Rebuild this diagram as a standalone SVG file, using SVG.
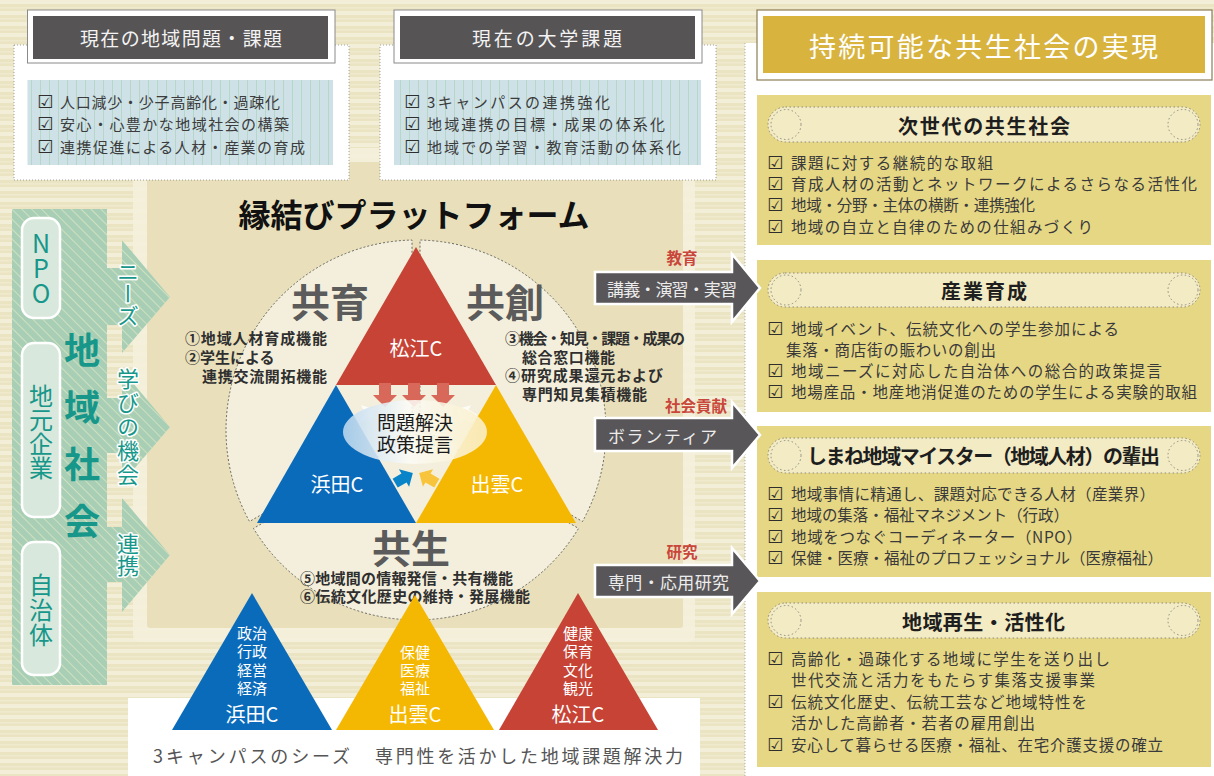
<svg xmlns="http://www.w3.org/2000/svg" width="1214" height="776" viewBox="0 0 1214 776">
<defs>
<style>
text{font-family:"Noto Sans CJK JP","Noto Sans CJK SC","DejaVu Sans",sans-serif;dominant-baseline:central;}
.c{text-anchor:middle}
.b{font-weight:700}
.hdr{fill:#f3f3f3;font-size:19px}
.item{fill:#3c3c3c;font-size:15px}
.chk{fill:#2e2e2e;font-size:18px;font-family:"DejaVu Sans",sans-serif}
.ritem{fill:#3a3a3a;font-size:15.5px}
.rtitle{fill:#1e1e1e;font-size:20px;font-weight:700}
.pill{fill:#f3ebc4;stroke:#8d8a80;stroke-width:1;stroke-dasharray:1.5 2.5}
.pc{fill:none;stroke:#8d8a80;stroke-width:1;stroke-dasharray:1.5 2.5}
.ybox{fill:#e6d785}
.teal{fill:#17978a}
.v{writing-mode:vertical-rl;text-orientation:upright}
.vt{writing-mode:vertical-rl;text-orientation:upright;font-size:22px;fill:#17978a;stroke:#fff;stroke-width:3;paint-order:stroke;stroke-linejoin:round}
.sector{fill:#f4efdc;stroke:#5a5a5a;stroke-width:0.9;stroke-dasharray:2 2}
.fn{fill:#2f2f2f;font-size:15px;font-weight:700}
.kyo{fill:#5b5b5b;font-size:39px;font-weight:700}
.wt{fill:#fff}
.garrow{fill:#585658;stroke:#fff;stroke-width:2.5;stroke-linejoin:miter}
.gtxt{fill:#ececec;font-size:17px}
.red{fill:#c9463b;font-size:15.5px;font-weight:700}
.gpill{fill:#d9e8dc;stroke:#fff;stroke-width:2.5}
</style>
<pattern id="bgStripe" width="16" height="11" patternUnits="userSpaceOnUse">
<rect width="16" height="11" fill="#ebe4c3"/>
<rect y="0" width="16" height="4" fill="#f3eed7"/>
<rect y="7" width="16" height="1.5" fill="#efe9cd"/>
</pattern>
<pattern id="blueLines" width="9" height="10" patternUnits="userSpaceOnUse">
<rect width="9" height="10" fill="#cde1e6"/>
<rect x="4" width="1" height="10" fill="#b6d6c8"/>
</pattern>
<pattern id="greenDiag" width="7" height="7" patternUnits="userSpaceOnUse" patternTransform="rotate(-45)">
<rect width="7" height="7" fill="#a8cfb6"/>
<rect width="1" height="7" fill="#cfe0be"/>
</pattern>
<linearGradient id="ellG" x1="0" y1="0" x2="1" y2="0">
<stop offset="0" stop-color="#bcd8ef"/>
<stop offset="0.45" stop-color="#fbfbf7"/>
<stop offset="1" stop-color="#faefc8"/>
</linearGradient>
<path id="sa" d="M-12,-6 H0 V-12 L12,0 L0,12 V6 H-12 Z"/>
</defs>

<!-- background -->
<rect width="1214" height="776" fill="url(#bgStripe)"/>

<!-- platform -->
<g id="platform">
<rect x="133" y="148" width="562" height="494" rx="6" fill="#f4efdb" opacity="0.9"/>
<rect x="147" y="162" width="536" height="466" rx="3" fill="#e9e0bb"/>
<text x="414" y="213" class="c b" font-size="32" fill="#111" textLength="351" lengthAdjust="spacing">縁結びプラットフォーム</text>
</g>

<!-- top left panel -->
<g id="regional-issues">
<rect x="14" y="45" width="335" height="135" fill="#fff" stroke="#888" stroke-width="0.8" stroke-dasharray="1 2"/>
<rect x="27.5" y="10" width="307.5" height="53" fill="#fff" stroke="#8a8a8a" stroke-width="1"/>
<rect x="33" y="16" width="295" height="43" fill="#565455"/>
<text x="181" y="37" class="c hdr" textLength="202" lengthAdjust="spacing">現在の地域問題・課題</text>
<rect x="27.5" y="80" width="305.5" height="85" fill="url(#blueLines)"/>
<text x="37" y="101" class="chk">☑</text>
<text x="60" y="101" class="item" textLength="220" lengthAdjust="spacing">人口減少・少子高齢化・過疎化</text>
<text x="37" y="123" class="chk">☑</text>
<text x="60" y="123" class="item" textLength="229" lengthAdjust="spacing">安心・心豊かな地域社会の構築</text>
<text x="37" y="146" class="chk">☑</text>
<text x="60" y="146" class="item" textLength="245" lengthAdjust="spacing">連携促進による人材・産業の育成</text>
</g>

<g id="university-issues">
<rect x="380" y="45" width="336" height="135" fill="#fff" stroke="#888" stroke-width="0.8" stroke-dasharray="1 2"/>
<rect x="394" y="10" width="308" height="53" fill="#fff" stroke="#8a8a8a" stroke-width="1"/>
<rect x="400" y="16" width="295" height="43" fill="#565455"/>
<text x="547" y="37" class="c hdr" textLength="150" lengthAdjust="spacing">現在の大学課題</text>
<rect x="394" y="80" width="307" height="85" fill="url(#blueLines)"/>
<text x="404" y="101" class="chk">☑</text>
<text x="427" y="101" class="item" textLength="183" lengthAdjust="spacing">3キャンパスの連携強化</text>
<text x="404" y="123" class="chk">☑</text>
<text x="427" y="123" class="item" textLength="238" lengthAdjust="spacing">地域連携の目標・成果の体系化</text>
<text x="404" y="146" class="chk">☑</text>
<text x="427" y="146" class="item" textLength="254" lengthAdjust="spacing">地域での学習・教育活動の体系化</text>
</g>

<!-- left community panel -->
<g id="community">
<rect x="12" y="209" width="95" height="476" fill="url(#greenDiag)"/>
<polygon points="100,268 122,268 122,240 170,297 122,353 122,325 100,325" fill="url(#greenDiag)"/>
<polygon points="100,398 122,398 122,370 170,427 122,483 122,453 100,453" fill="url(#greenDiag)"/>
<polygon points="100,527 122,527 122,498 170,555 122,612 122,582 100,582" fill="url(#greenDiag)"/>
<rect x="22" y="218" width="38" height="100" rx="12" class="gpill"/>
<rect x="22" y="343" width="38" height="174" rx="12" class="gpill"/>
<rect x="22" y="542" width="38" height="133" rx="12" class="gpill"/>
<text x="41" y="231" class="teal v" font-size="25">NPO</text>
<text x="41" y="384" class="teal v" font-size="24">地元企業</text>
<text x="41" y="573" class="teal v" font-size="24" letter-spacing="1">自治体</text>
<text x="82" y="332" class="teal b v" font-size="36" letter-spacing="21">地域社会</text>
<text x="128" y="261" class="vt">ニーズ</text>
<text x="128" y="368" class="vt" letter-spacing="2">学びの機会</text>
<text x="128" y="533" class="vt">連携</text>
</g>

<!-- circle sectors -->
<g id="circle">
<path class="sector" d="M412,427.65 L249.5,521.5 A190,190 0 0 1 412,240.04 Z"/>
<path class="sector" d="M420,427.65 L420,240.04 A190,190 0 0 1 582.5,521.5 Z"/>
<path class="sector" d="M416,434.6 L578.5,528.4 A190,190 0 0 1 253.5,528.4 Z"/>
<text x="330" y="300" class="c kyo">共育</text>
<text x="505" y="300" class="c kyo">共創</text>
<text x="411" y="546" class="c kyo">共生</text>
<text class="fn"><tspan x="185" y="337" textLength="142" lengthAdjust="spacing">①地域人材育成機能</tspan><tspan x="185" y="356">②学生による</tspan><tspan x="202" y="375" textLength="125" lengthAdjust="spacing">連携交流開拓機能</tspan></text>
<text class="fn"><tspan x="505" y="337" textLength="180" lengthAdjust="spacing">③機会・知見・課題・成果の</tspan><tspan x="522" y="356" textLength="93" lengthAdjust="spacing">総合窓口機能</tspan><tspan x="505" y="374" textLength="158" lengthAdjust="spacing">④研究成果還元および</tspan><tspan x="522" y="393" textLength="125" lengthAdjust="spacing">専門知見集積機能</tspan></text>
<text class="fn"><tspan x="300" y="577" textLength="213" lengthAdjust="spacing">⑤地域間の情報発信・共有機能</tspan><tspan x="300" y="595" textLength="230" lengthAdjust="spacing">⑥伝統文化歴史の維持・発展機能</tspan></text>
</g>

<!-- central triangles -->
<g id="campus-triangle">
<polygon points="416,247 336,385 496,385" fill="#c64336"/>
<polygon points="336,385 257,523 416,523" fill="#0b6bbb"/>
<polygon points="496,385 416,523 576,523" fill="#f5b802"/>
<text x="416" y="347" class="c wt" font-size="20">松江C</text>
<text x="337" y="483" class="c wt" font-size="20">浜田C</text>
<text x="497" y="483" class="c wt" font-size="20">出雲C</text>
</g>

<g id="center-arrows">
<use href="#sa" transform="translate(385,395) rotate(90)" fill="#d7685a"/>
<use href="#sa" transform="translate(414,395) rotate(90)" fill="#d7685a"/>
<use href="#sa" transform="translate(443,395) rotate(90)" fill="#d7685a"/>
<use href="#sa" transform="translate(366,414) rotate(-30) scale(0.85)" fill="#fff" opacity="0.8"/>
<use href="#sa" transform="translate(385,447) rotate(-30) scale(0.85)" fill="#fff" opacity="0.8"/>
<use href="#sa" transform="translate(404,478) rotate(-30) scale(0.85)" fill="#0a84c8"/>
<use href="#sa" transform="translate(466,414) rotate(210) scale(0.85)" fill="#fff" opacity="0.8"/>
<use href="#sa" transform="translate(447,447) rotate(210) scale(0.85)" fill="#fff" opacity="0.8"/>
<use href="#sa" transform="translate(428,478) rotate(210) scale(0.85)" fill="#f8c43c"/>
</g>

<g id="problem-solving">
<ellipse cx="415" cy="432" rx="72" ry="32" fill="url(#ellG)" opacity="0.88"/>
<text class="c" font-size="19" fill="#1a1a1a"><tspan x="415" y="421">問題解決</tspan><tspan x="415" y="443">政策提言</tspan></text>
</g>

<!-- bottom seeds -->
<g id="seeds">
<rect x="128" y="698" width="572" height="78" fill="#fff"/>
<text x="153" y="755" font-size="18" fill="#555" textLength="197" lengthAdjust="spacing">3キャンパスのシーズ</text>
<text x="375" y="755" font-size="18" fill="#555" textLength="308" lengthAdjust="spacing">専門性を活かした地域課題解決力</text>
</g>
<g id="hamada">
<polygon points="252,593 172,730 332,730" fill="#0b6bbb"/>
<text class="c wt" font-size="15"><tspan x="252" y="632">政治</tspan><tspan x="252" y="650">行政</tspan><tspan x="252" y="669">経営</tspan><tspan x="252" y="687">経済</tspan></text>
<text x="252" y="713" class="c wt" font-size="20">浜田C</text>
</g>
<g id="izumo">
<polygon points="415,595 336,730 494,730" fill="#f5b802"/>
<text class="c wt" font-size="15"><tspan x="415" y="651">保健</tspan><tspan x="415" y="669">医療</tspan><tspan x="415" y="687">福祉</tspan></text>
<text x="415" y="713" class="c wt" font-size="20">出雲C</text>
</g>
<g id="matsue">
<polygon points="578,593 499,730 658,730" fill="#c64336"/>
<text class="c wt" font-size="15"><tspan x="578" y="632">健康</tspan><tspan x="578" y="650">保育</tspan><tspan x="578" y="669">文化</tspan><tspan x="578" y="687">観光</tspan></text>
<text x="578" y="713" class="c wt" font-size="20">松江C</text>
</g>

<!-- right column -->
<rect x="745" y="43" width="469" height="733" fill="#fff"/>
<line x1="745" y1="43" x2="745" y2="776" stroke="#999" stroke-width="0.8" stroke-dasharray="1 2"/>

<g id="goal">
<rect x="757" y="10" width="455" height="70" fill="#fff" stroke="#8b7d55" stroke-width="1.2"/>
<rect x="763" y="16" width="442" height="57" fill="#d8b43f"/>
<text x="983.5" y="45" class="c" font-size="27" fill="#fff" textLength="349" lengthAdjust="spacing">持続可能な共生社会の実現</text>
</g>

<g id="next-gen">
<rect x="757" y="95" width="454" height="150" class="ybox"/>
<rect x="768" y="107" width="432" height="35" rx="17.5" class="pill"/>
<circle cx="786" cy="124.5" r="15" class="pc"/>
<circle cx="1183" cy="124.5" r="15" class="pc"/>
<text x="984" y="125" class="c rtitle" textLength="172" lengthAdjust="spacing">次世代の共生社会</text>
<text x="767" y="162" class="chk">☑</text>
<text x="791" y="162" class="ritem" textLength="202" lengthAdjust="spacing">課題に対する継続的な取組</text>
<text x="767" y="183" class="chk">☑</text>
<text x="791" y="183" class="ritem" textLength="406" lengthAdjust="spacing">育成人材の活動とネットワークによるさらなる活性化</text>
<text x="767" y="204" class="chk">☑</text>
<text x="791" y="204" class="ritem" textLength="244" lengthAdjust="spacing">地域・分野・主体の横断・連携強化</text>
<text x="767" y="226" class="chk">☑</text>
<text x="791" y="226" class="ritem" textLength="302" lengthAdjust="spacing">地域の自立と自律のための仕組みづくり</text>
</g>

<g id="industry">
<rect x="757" y="260" width="454" height="152" class="ybox"/>
<rect x="768" y="273" width="432" height="34" rx="17" class="pill"/>
<circle cx="786" cy="290" r="15" class="pc"/>
<circle cx="1183" cy="290" r="15" class="pc"/>
<text x="984" y="290" class="c rtitle" textLength="86" lengthAdjust="spacing">産業育成</text>
<text x="767" y="328" class="chk">☑</text>
<text class="ritem"><tspan x="791" y="328" textLength="328" lengthAdjust="spacing">地域イベント、伝統文化への学生参加による</tspan><tspan x="786" y="349" textLength="210" lengthAdjust="spacing">集落・商店街の賑わいの創出</tspan></text>
<text x="767" y="370" class="chk">☑</text>
<text x="791" y="370" class="ritem" textLength="371" lengthAdjust="spacing">地域ニーズに対応した自治体への総合的政策提言</text>
<text x="767" y="391" class="chk">☑</text>
<text x="791" y="391" class="ritem" textLength="406" lengthAdjust="spacing">地場産品・地産地消促進のための学生による実験的取組</text>
</g>

<g id="meister">
<rect x="757" y="426" width="454" height="151" class="ybox"/>
<rect x="768" y="438" width="432" height="35" rx="17.5" class="pill"/>
<circle cx="786" cy="455.5" r="15" class="pc"/>
<circle cx="1183" cy="455.5" r="15" class="pc"/>
<text x="983.5" y="455" class="c rtitle" textLength="353" lengthAdjust="spacing">しまね地域マイスター（地域人材）の輩出</text>
<text x="767" y="493" class="chk">☑</text>
<text x="791" y="493" class="ritem" textLength="364" lengthAdjust="spacing">地域事情に精通し、課題対応できる人材（産業界）</text>
<text x="767" y="514" class="chk">☑</text>
<text x="791" y="514" class="ritem" textLength="278" lengthAdjust="spacing">地域の集落・福祉マネジメント（行政）</text>
<text x="767" y="536" class="chk">☑</text>
<text x="791" y="536" class="ritem" textLength="291" lengthAdjust="spacing">地域をつなぐコーディネーター（NPO）</text>
<text x="767" y="557" class="chk">☑</text>
<text x="791" y="557" class="ritem" textLength="372" lengthAdjust="spacing">保健・医療・福祉のプロフェッショナル（医療福祉）</text>
</g>

<g id="regeneration">
<rect x="757" y="592" width="454" height="175" class="ybox"/>
<rect x="768" y="603" width="432" height="35" rx="17.5" class="pill"/>
<circle cx="786" cy="620.5" r="15" class="pc"/>
<circle cx="1183" cy="620.5" r="15" class="pc"/>
<text x="983.5" y="621" class="c rtitle" textLength="163" lengthAdjust="spacing">地域再生・活性化</text>
<text x="767" y="658" class="chk">☑</text>
<text class="ritem"><tspan x="791" y="658" textLength="319" lengthAdjust="spacing">高齢化・過疎化する地域に学生を送り出し</tspan><tspan x="791" y="679" textLength="304" lengthAdjust="spacing">世代交流と活力をもたらす集落支援事業</tspan></text>
<text x="767" y="701" class="chk">☑</text>
<text class="ritem"><tspan x="791" y="701" textLength="296" lengthAdjust="spacing">伝統文化歴史、伝統工芸など地域特性を</tspan><tspan x="791" y="722" textLength="244" lengthAdjust="spacing">活かした高齢者・若者の雇用創出</tspan></text>
<text x="767" y="744" class="chk">☑</text>
<text x="791" y="744" class="ritem" textLength="372" lengthAdjust="spacing">安心して暮らせる医療・福祉、在宅介護支援の確立</text>
</g>

<!-- connectors -->
<g id="connectors">
<path class="garrow" d="M595,272 H732 V254 L760,288 L732,322 V304 H595 Z"/>
<text x="607" y="288" class="gtxt" textLength="130" lengthAdjust="spacing">講義・演習・実習</text>
<text x="682" y="257" class="c red">教育</text>
<path class="garrow" d="M595,418 H732 V402 L760,435 L732,468 V451 H595 Z"/>
<text x="608" y="435" class="gtxt" textLength="109" lengthAdjust="spacing">ボランティア</text>
<text x="696" y="405" class="c red">社会貢献</text>
<path class="garrow" d="M595,565 H732 V548 L760,581 L732,614 V597 H595 Z"/>
<text x="608" y="581" class="gtxt" textLength="121" lengthAdjust="spacing">専門・応用研究</text>
<text x="682" y="551" class="c red">研究</text>
</g>
</svg>
